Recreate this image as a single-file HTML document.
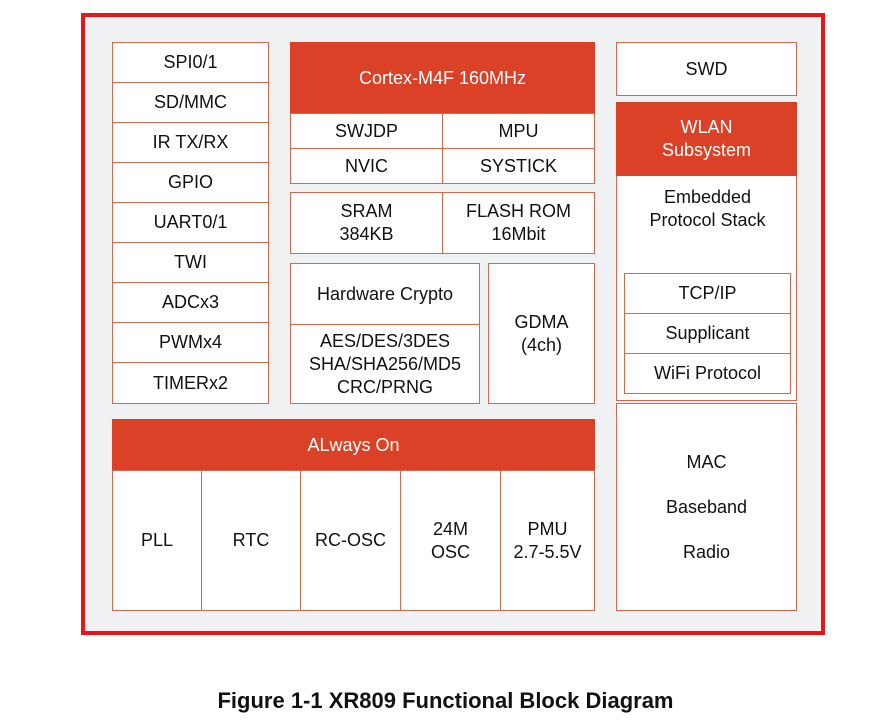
<!DOCTYPE html>
<html><head><meta charset="utf-8"><style>
body{margin:0;width:891px;height:727px;background:#fff;position:relative;overflow:hidden;font-family:"Liberation Sans",sans-serif;}
.frame{position:absolute;left:81px;top:13px;width:736px;height:614px;border:4px solid #e8151b;background:#f0f1f3;}
.b{position:absolute;box-sizing:border-box;border:1.5px solid #d8664c;background:#fff;display:flex;align-items:center;justify-content:center;text-align:center;color:#111;font-size:18px;line-height:23px;}
.h{background:#db4127;color:#fff;border-color:#db4127;}
.cap{position:absolute;left:0;width:891px;top:688px;text-align:center;font-weight:bold;font-size:22px;color:#111;}
</style></head><body>
<div class="frame"></div>
<!-- left column -->
<div class="b" style="left:112px;top:42px;width:157px;height:41px">SPI0/1</div>
<div class="b" style="left:112px;top:82px;width:157px;height:41px">SD/MMC</div>
<div class="b" style="left:112px;top:122px;width:157px;height:41px">IR TX/RX</div>
<div class="b" style="left:112px;top:162px;width:157px;height:41px">GPIO</div>
<div class="b" style="left:112px;top:202px;width:157px;height:41px">UART0/1</div>
<div class="b" style="left:112px;top:242px;width:157px;height:41px">TWI</div>
<div class="b" style="left:112px;top:282px;width:157px;height:41px">ADCx3</div>
<div class="b" style="left:112px;top:322px;width:157px;height:41px">PWMx4</div>
<div class="b" style="left:112px;top:362px;width:157px;height:42px">TIMERx2</div>
<!-- cortex -->
<div class="b h" style="left:290px;top:42px;width:305px;height:72px">Cortex-M4F 160MHz</div>
<div class="b" style="left:290px;top:113px;width:153px;height:36px">SWJDP</div>
<div class="b" style="left:442px;top:113px;width:153px;height:36px">MPU</div>
<div class="b" style="left:290px;top:148px;width:153px;height:36px">NVIC</div>
<div class="b" style="left:442px;top:148px;width:153px;height:36px">SYSTICK</div>
<div class="b" style="left:290px;top:192px;width:153px;height:62px">SRAM<br>384KB</div>
<div class="b" style="left:442px;top:192px;width:153px;height:62px">FLASH ROM<br>16Mbit</div>
<div class="b" style="left:290px;top:263px;width:190px;height:62px">Hardware Crypto</div>
<div class="b" style="left:290px;top:324px;width:190px;height:80px">AES/DES/3DES<br>SHA/SHA256/MD5<br>CRC/PRNG</div>
<div class="b" style="left:488px;top:263px;width:107px;height:141px">GDMA<br>(4ch)</div>
<!-- always on -->
<div class="b h" style="left:112px;top:419px;width:483px;height:52px">ALways On</div>
<div class="b" style="left:112px;top:470px;width:90px;height:141px">PLL</div>
<div class="b" style="left:201px;top:470px;width:100px;height:141px">RTC</div>
<div class="b" style="left:300px;top:470px;width:101px;height:141px">RC-OSC</div>
<div class="b" style="left:400px;top:470px;width:101px;height:141px">24M<br>OSC</div>
<div class="b" style="left:500px;top:470px;width:95px;height:141px">PMU<br>2.7-5.5V</div>
<!-- right -->
<div class="b" style="left:616px;top:42px;width:181px;height:54px">SWD</div>
<div class="b" style="left:616px;top:102px;width:181px;height:299px;align-items:flex-start"></div>
<div class="b h" style="left:616px;top:102px;width:181px;height:74px">WLAN<br>Subsystem</div>
<div class="b" style="left:630px;top:184px;width:155px;height:50px;border:none">Embedded<br>Protocol Stack</div>
<div class="b" style="left:624px;top:273px;width:167px;height:41px">TCP/IP</div>
<div class="b" style="left:624px;top:313px;width:167px;height:41px">Supplicant</div>
<div class="b" style="left:624px;top:353px;width:167px;height:41px">WiFi Protocol</div>
<div class="b" style="left:616px;top:403px;width:181px;height:208px;line-height:45px">MAC<br>Baseband<br>Radio</div>
<div class="cap">Figure 1-1 XR809 Functional Block Diagram</div>
</body></html>
